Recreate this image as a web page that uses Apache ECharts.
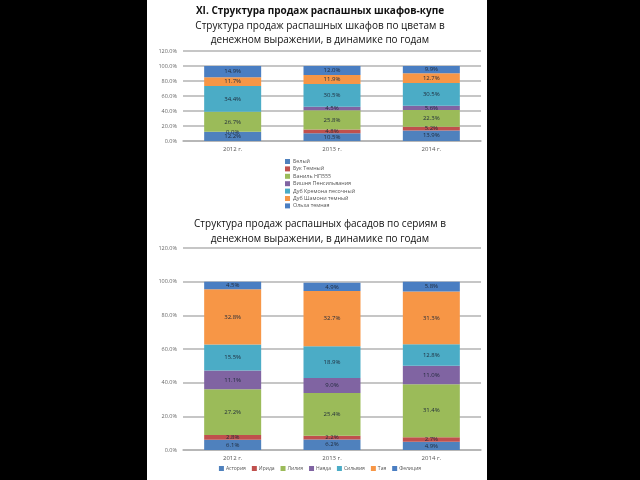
<!DOCTYPE html>
<html><head><meta charset="utf-8">
<script src="https://cdn.jsdelivr.net/npm/echarts@6/dist/echarts.min.js"></script>
<style>
html,body{margin:0;padding:0;background:#000;width:640px;height:480px;overflow:hidden}
#paper{position:absolute;left:147px;top:0;width:340px;height:480px;background:#fff}
#c{position:absolute;left:0;top:0;width:640px;height:480px}
</style></head><body>
<div id="paper"></div><div id="c"></div>
<script>
const years = ['2012 г.', '2013 г.', '2014 г.'];
const yTicks = [0, 20, 40, 60, 80, 100, 120];

// Chart 1: colours
const colorNames = ['Белый', 'Бук Темный', 'Ваниль НП555', 'Вишня Пенсильвания', 'Дуб Кремона песочный', 'Дуб Шамони темный', 'Ольха темная'];
const belyi = [12.2, 10.5, 13.9];
const bukTemnyi = [0.0, 4.8, 5.2];
const vanil = [26.7, 25.8, 22.3];
const vishnya = [null, 4.5, 5.6];
const dubKremona = [34.4, 30.5, 30.5];
const dubShamoni = [11.7, 11.9, 12.7];
const olkha = [14.9, 12.0, 9.9];

// Chart 2: series
const seriesNames = ['Астория', 'Ирида', 'Лилия', 'Наяда', 'Сильвия', 'Тая', 'Фелиция'];
const astoria = [6.1, 6.2, 4.9];
const irida = [2.8, 2.2, 2.7];
const liliya = [27.2, 25.4, 31.4];
const nayada = [11.1, 9.0, 11.0];
const silviya = [15.5, 18.9, 12.8];
const taya = [32.8, 32.7, 31.3];
const feliciya = [4.5, 4.9, 5.8];

const colors = ['#4F81BD', '#C0504D', '#9BBB59', '#8064A2', '#4BACC6', '#F79646', '#4A7EC2'];
const data1 = [belyi, bukTemnyi, vanil, vishnya, dubKremona, dubShamoni, olkha];
const data2 = [astoria, irida, liliya, nayada, silviya, taya, feliciya];

const FONT = 'Open Sans, DejaVu Sans, sans-serif';
const lbl = {show: true, position: 'inside', fontSize: 6, color: '#1f2a3a', fontFamily: FONT,
  formatter: p => (p.value == null ? '' : Number(p.value).toFixed(1) + '%')};

function mkSeries(names, datas, idx, stack) {
  return names.map((n, i) => ({
    name: n, type: 'bar', stack: stack, xAxisIndex: idx, yAxisIndex: idx,
    data: datas[i], barWidth: 57, itemStyle: {color: colors[i]}, label: lbl
  }));
}

function yAx(idx) {
  return {gridIndex: idx, type: 'value', min: yTicks[0], max: yTicks[yTicks.length - 1], interval: 20,
    axisLine: {show: false}, axisTick: {show: false},
    axisLabel: {fontSize: 5.5, color: '#666', fontFamily: FONT, margin: 6, formatter: v => v.toFixed(1) + '%'},
    splitLine: {lineStyle: {color: '#b3b3b3', width: 1.5}}};
}
function xAx(idx) {
  return {gridIndex: idx, type: 'category', data: years,
    axisLine: {lineStyle: {color: '#b3b3b3', width: 1.5}}, axisTick: {show: false},
    axisLabel: {fontSize: 6, color: '#555', fontFamily: FONT, margin: 5}};
}

const chart = echarts.init(document.getElementById('c'));
chart.setOption({
  animation: false,
  textStyle: {fontFamily: FONT},
  title: [
    {text: 'XI. Структура продаж распашных шкафов-купе', left: 'center', top: 1,
      textStyle: {fontSize: 10, fontWeight: 'bold', color: '#111', fontFamily: FONT}},
    {text: 'Структура продаж распашных шкафов по цветам в\nденежном выражении, в динамике по годам', left: 'center', top: 14.5,
      textStyle: {fontSize: 10, fontWeight: 'normal', color: '#111', lineHeight: 13.5, fontFamily: FONT}},
    {text: 'Структура продаж распашных фасадов по сериям в\nденежном выражении, в динамике по годам', left: 'center', top: 211.5,
      textStyle: {fontSize: 10, fontWeight: 'normal', color: '#111', lineHeight: 15, fontFamily: FONT}}
  ],
  legend: [
    {data: colorNames, orient: 'vertical', left: 285, top: 159, padding: 0, itemWidth: 5, itemHeight: 5, itemGap: 2.4,
      textStyle: {fontSize: 5.4, color: '#555', fontFamily: FONT, padding: [0, 0, 0, -2]}, icon: 'rect'},
    {data: seriesNames, orient: 'horizontal', left: 'center', top: 466, padding: 0, itemWidth: 5, itemHeight: 5, itemGap: 6,
      textStyle: {fontSize: 5, color: '#555', fontFamily: FONT, padding: [0, 0, 0, -3]}, icon: 'rect'}
  ],
  grid: [
    {left: 183, right: 159, top: 51, bottom: 339},
    {left: 183, right: 159, top: 248, bottom: 30}
  ],
  xAxis: [xAx(0), xAx(1)],
  yAxis: [yAx(0), yAx(1)],
  series: mkSeries(colorNames, data1, 0, 's1').concat(mkSeries(seriesNames, data2, 1, 's2'))
});
</script></body></html>
